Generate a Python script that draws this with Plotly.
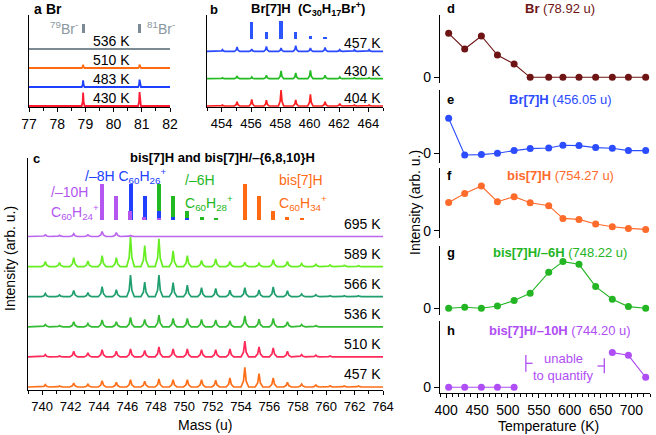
import plotly.graph_objects as go

# ---------------- data ----------------
# panel a : Br- region (peak heights, arb. u.)
a_labels = ["430 K", "483 K", "510 K", "536 K"]
a_colors = ["#ff1a33", "#1f3fff", "#ff6a13", "#7b8a93"]
a_peak_mass = [78.92, 80.92]
a_heights = [[13.5, 14.0], [6.7, 7.3], [3.3, 3.3], [0.0, 0.0]]
a_marker_mass = [78.92, 80.92]
a_marker_height = [9.0, 9.0]

# panel b : Br[7]H region
b_labels = ["404 K", "430 K", "457 K"]
b_colors = ["#ff1f1f", "#22bb22", "#2a4bff"]
b_mass = [454.05, 455.05, 456.05, 457.05, 458.05, 459.05, 460.05, 461.05, 462.05, 463.05, 464.05]
b_heights = [
    [1.0, 4.3, 6.7, 5.7, 16.0, 6.0, 11.7, 4.3, 2.3, 1.0, 1.0],
    [1.0, 2.7, 1.7, 3.3, 7.7, 5.7, 8.3, 3.3, 1.7, 1.0, 1.0],
    [1.7, 4.3, 2.3, 5.0, 3.3, 5.7, 3.3, 4.0, 1.7, 1.7, 1.7],
]
b_stick_mass = [456.05, 457.05, 458.05, 459.05, 460.05, 461.05]
b_stick_height = [17.3, 7.3, 18.0, 6.7, 3.0, 1.7]

# panel c : bis[7]H region
c_labels = ["457 K", "510 K", "536 K", "566 K", "589 K", "695 K"]
c_colors = ["#ff6f1a", "#ff2a5a", "#33bb33", "#1f9e6e", "#66ee22", "#bb66ee"]
c_mass = [740.22, 741.22, 742.22, 743.22, 744.22, 745.22, 746.22, 747.22, 748.22, 749.22,
          750.22, 751.22, 752.22, 753.22, 754.27, 755.27, 756.27, 757.27, 758.27, 759.27,
          760.27, 761.27, 762.27, 763.27]
c_heights = [
    [2.3, 1.0, 4.0, 2.7, 6.3, 4.7, 7.3, 5.7, 8.0, 7.3, 7.3, 7.3, 6.7, 9.0, 19.7, 13.3, 9.0, 4.7, 3.0, 2.0, 1.3, 1.0, 1.0, 0.7],
    [2.3, 1.0, 5.7, 4.0, 7.3, 5.7, 8.0, 6.3, 10.0, 8.0, 8.0, 7.3, 7.3, 8.0, 15.7, 10.0, 9.0, 5.7, 2.3, 1.7, 1.0, 0.7, 0.7, 0.5],
    [2.3, 1.3, 5.0, 3.3, 6.7, 5.0, 9.3, 7.3, 11.7, 8.3, 8.3, 7.3, 6.7, 6.0, 11.0, 7.7, 8.3, 5.0, 2.3, 1.3, 0.7, 0.7, 0.7, 0.5],
    [3.3, 1.7, 6.3, 4.0, 10.0, 7.0, 21.5, 14.7, 21.7, 14.0, 11.5, 9.0, 8.2, 6.5, 9.0, 6.7, 9.7, 6.0, 2.7, 2.0, 1.0, 1.0, 1.0, 0.7],
    [5.0, 4.0, 9.0, 5.5, 11.0, 9.0, 30.0, 21.0, 27.7, 15.7, 11.0, 6.0, 7.7, 5.0, 4.3, 3.3, 7.0, 5.0, 3.0, 2.3, 1.7, 1.3, 1.0, 0.7],
    [1.7, 1.3, 2.7, 1.7, 5.0, 4.0, 1.0, 0.7, 0.7, 0.5, 0.5, 0.5, 0.5, 0.5, 0.7, 0.5, 0.5, 0.5, 0.5, 0.5, 0.5, 0.5, 0.5, 0.5],
]
iso_pattern = [1.0, 0.66, 0.25, 0.075, 0.03]
stick_full = 36.0
stick_mass_6H = [748.22, 749.22, 750.22, 751.22, 752.22]
stick_mass_8H = [746.22, 747.22, 748.22, 749.22, 750.22]
stick_mass_10H = [744.20, 745.20, 746.20, 747.20, 748.20]
stick_mass_bis = [754.27, 755.27, 756.27, 757.27, 758.27]

# panels d-h : temperature dependence
temps = [404, 430, 457, 483, 510, 536, 566, 589, 615, 642, 669, 695, 723]
d_br = [44.0, 28.3, 41.3, 22.3, 13.3, 0, 0, 0, 0, 0, 0, 0, 0]
e_br7h = [35.0, -1.7, -1.3, 0.0, 2.7, 4.7, 5.3, 8.0, 7.7, 5.7, 5.0, 2.7, 2.7]
f_bis = [28.3, 37.3, 44.7, 29.0, 34.0, 28.0, 25.0, 12.3, 11.3, 6.7, 4.0, 2.3, 1.3]
g_bis6 = [0.0, 1.0, 0.0, 2.3, 7.7, 15.0, 36.0, 46.7, 44.0, 21.7, 9.0, 1.7, 0.0]
h_bis10 = [0.0, 0.0, 0.0, 0.0, 0.0, None, None, None, None, None, 34.7, 32.0, 10.0]

# ---------------- helpers ----------------
W, H = 656, 435
FONT = "Liberation Sans, Arial, sans-serif"


def px_x(p):
    return p / W


def px_y(p):
    return 1 - p / H


def profile(centers, heights, base, hw, lo, hi):
    xs, ys = [lo], [base]
    for m, h in zip(centers, heights):
        xs += [m - hw, m - 0.35 * hw, m, m + 0.35 * hw, m + hw]
        ys += [base, base + 0.3 * h, base + h, base + 0.3 * h, base]
    xs.append(hi)
    ys.append(base)
    return xs, ys


fig = go.Figure()

# ---- panel a ----
A_STEP = 19.0
for i, (hts, col) in enumerate(zip(a_heights, a_colors)):
    xs, ys = profile(a_peak_mass, hts, i * A_STEP, 0.05, 77, 82)
    fig.add_trace(go.Scatter(x=xs, y=ys, mode="lines", line=dict(color=col, width=1.8),
                             xaxis="x", yaxis="y", hoverinfo="skip"))
fig.add_trace(go.Bar(x=a_marker_mass, y=a_marker_height, base=73, width=0.11,
                     marker=dict(color="#7b8a93", line=dict(width=0)), xaxis="x", yaxis="y"))

# ---- panel b ----
B_STEP = 27.3
for i, (hts, col) in enumerate(zip(b_heights, b_colors)):
    xs, ys = profile(b_mass, hts, i * B_STEP, 0.18, 453, 465)
    fig.add_trace(go.Scatter(x=xs, y=ys, mode="lines", line=dict(color=col, width=1.7),
                             xaxis="x2", yaxis="y2", hoverinfo="skip"))
fig.add_trace(go.Bar(x=b_stick_mass, y=b_stick_height, base=67, width=0.24,
                     marker=dict(color="#2a55ff", line=dict(width=0)), xaxis="x2", yaxis="y2"))

# ---- panel c ----
C_STEP = 30.1
for i, (hts, col) in enumerate(zip(c_heights, c_colors)):
    xs, ys = profile(c_mass, hts, i * C_STEP, 0.27, 739, 764)
    fig.add_trace(go.Scatter(x=xs, y=ys, mode="lines", line=dict(color=col, width=1.7),
                             xaxis="x3", yaxis="y3", hoverinfo="skip"))
stick_h = [r * stick_full for r in iso_pattern]
for masses, col in [(stick_mass_bis, "#ff6a13"), (stick_mass_6H, "#22b822"),
                    (stick_mass_8H, "#2040ff"), (stick_mass_10H, "#b456f0")]:
    fig.add_trace(go.Bar(x=masses, y=stick_h, base=167, width=0.28,
                         marker=dict(color=col, line=dict(width=0)), xaxis="x3", yaxis="y3"))

# ---- panels d-h ----
right = [
    (d_br, "#6e1414", "4"),
    (e_br7h, "#2b4cff", "5"),
    (f_bis, "#ff6b2b", "6"),
    (g_bis6, "#23b523", "7"),
    (h_bis10, "#b04ef5", "8"),
]
for vals, col, k in right:
    fig.add_trace(go.Scatter(x=temps, y=vals, mode="lines+markers",
                             line=dict(color=col, width=1.1),
                             marker=dict(color=col, size=7),
                             xaxis="x" + k, yaxis="y" + k, hoverinfo="skip"))

# ---------------- layout ----------------
lay = dict(width=W, height=H, margin=dict(l=0, r=0, t=0, b=0, autoexpand=False),
           paper_bgcolor="white", plot_bgcolor="white", showlegend=False,
           barmode="overlay", bargap=0,
           font=dict(family=FONT, size=13, color="black"))


def spec_x(dom, rng, dtick, minor, anchor, size=13):
    return dict(domain=[px_x(dom[0]), px_x(dom[1])], range=rng, anchor=anchor,
                automargin=False,
                showline=True, linecolor="black", linewidth=1.3, mirror=False,
                showgrid=False, zeroline=False, ticks="outside", ticklen=4,
                tickwidth=1.2, tickcolor="black", dtick=dtick, tick0=0,
                tickfont=dict(size=size, family=FONT),
                minor=dict(dtick=minor, ticks="outside", ticklen=2.5, tickcolor="black",
                           showgrid=False))


def spec_y(dom, rng, anchor):
    return dict(domain=[px_y(dom[1]), px_y(dom[0])], range=rng, anchor=anchor,
                automargin=False,
                showline=True, linecolor="black", linewidth=1.3, showgrid=False,
                zeroline=False, showticklabels=False, ticks="")


lay["xaxis"] = spec_x((29, 170), [77, 82], 1, 0.5, "y", size=14)
lay["yaxis"] = spec_y((15, 107), [-1, 91], "x")
lay["xaxis2"] = spec_x((207, 383), [453, 465], 2, 1, "y2")
lay["yaxis2"] = spec_y((15, 107), [-1, 91], "x2")
lay["xaxis3"] = spec_x((28, 383), [739, 764], 2, 1, "y3")
lay["yaxis3"] = spec_y((158, 390), [-3, 229], "x3")

right_dom = [(15, 83, [-5.7, 62.3]), (90, 163, [-9.7, 63.3]), (168, 238, [-7.3, 62.7]),
             (246, 315, [-6.7, 62.3]), (321, 393, [-5.7, 66.3])]
for j, (top, bot, rng) in enumerate(right_dom):
    k = str(j + 4)
    xa = dict(domain=[px_x(440), px_x(650)], range=[390, 730], anchor="y" + k,
              automargin=False, showgrid=False, zeroline=False)
    if k == "8":
        xa.update(showline=True, linecolor="black", linewidth=1.3, ticks="outside",
                  ticklen=4, tickwidth=1.2, tickcolor="black", dtick=50, tick0=0,
                  tickfont=dict(size=14, family=FONT),
                  minor=dict(dtick=10, ticks="outside", ticklen=2.5, tickcolor="black",
                             showgrid=False))
    else:
        xa.update(visible=False)
    lay["xaxis" + k] = xa
    lay["yaxis" + k] = dict(domain=[px_y(bot), px_y(top)], range=rng, anchor="x" + k,
                            automargin=False,
                            showline=True, linecolor="black", linewidth=1.3,
                            showgrid=False, zeroline=False, tickvals=[0], ticktext=["0"],
                            ticks="outside", ticklen=5, tickwidth=1.2, tickcolor="black",
                            tickfont=dict(size=14, family=FONT))

ann = []


def note(text, x, y, xanchor="center", size=13, color="black", **kw):
    ann.append(dict(text=text, x=px_x(x), y=px_y(y), xref="paper", yref="paper",
                    xanchor=xanchor, yanchor="middle", showarrow=False,
                    font=dict(size=size, color=color, family=FONT), **kw))


def dnote(text, x, y, xr, yr, xanchor="center", size=13, color="black"):
    ann.append(dict(text=text, x=x, y=y, xref=xr, yref=yr, xanchor=xanchor,
                    yanchor="middle", showarrow=False,
                    font=dict(size=size, color=color, family=FONT)))


# panel a texts
note("<b>a</b>", 32, 9, "left", 14)
note("<b>Br</b>", 44, 9, "left", 14)
note("<sup>79</sup>Br<sup>-</sup>", 80, 28, "right", 14, "#8a979e")
note("<sup>81</sup>Br<sup>-</sup>", 145, 28, "left", 14, "#8a979e")
for i, lab in enumerate(a_labels):
    dnote(lab, 79.92, i * A_STEP + 7.7, "x", "y", size=14)

# panel b texts
note("<b>b</b>", 208, 9, "left", 13)
note("<b>Br[7]H  (C<sub>30</sub>H<sub>17</sub>Br<sup>+</sup>)</b>", 308, 9, "center", 13)
for i, lab in enumerate(b_labels):
    dnote(lab, 465, i * B_STEP + 8, "x2", "y2", xanchor="right", size=14)

# panel c texts
note("<b>c</b>", 31, 158, "left", 13)
note("<b>bis[7]H and bis[7]H/–{6,8,10}H</b>", 222, 157, "center", 13)
note("/–10H", 49, 192, "left", 14, "#b456f0")
note("C<sub>60</sub>H<sub>24</sub><sup>+</sup>", 49, 212, "left", 14, "#b456f0")
note("/–8H C<sub>60</sub>H<sub>26</sub><sup>+</sup>", 83, 176, "left", 14, "#2040ff")
note("/–6H", 183, 180, "left", 14, "#22b822")
note("C<sub>60</sub>H<sub>28</sub><sup>+</sup>", 183, 203, "left", 14, "#22b822")
note("bis[7]H", 277, 180, "left", 14, "#ff6a13")
note("C<sub>60</sub>H<sub>34</sub><sup>+</sup>", 277, 203, "left", 14, "#ff6a13")
for i, lab in enumerate(c_labels):
    dnote(lab, 764, i * C_STEP + 13, "x3", "y3", xanchor="right", size=14)

# panels d-h texts
titles = [
    ("d", "<b>Br</b> (78.92 u)", "#6e1414", 8),
    ("e", "<b>Br[7]H</b> (456.05 u)", "#2b4cff", 99),
    ("f", "<b>bis[7]H</b> (754.27 u)", "#ff6b2b", 175),
    ("g", "<b>bis[7]H/–6H</b> (748.22 u)", "#23b523", 252),
    ("h", "<b>bis[7]H/–10H</b> (744.20 u)", "#b04ef5", 330),
]
for letter, t, col, yy in titles:
    note("<b>%s</b>" % letter, 445, yy, "left", 13)
    note(t, 560, yy, "center", 13, col)
note("unable", 563, 358, "center", 13, "#b04ef5")
note("to quantify", 563, 375, "center", 13, "#b04ef5")

# axis titles
note("Mass (u)", 205, 425, "center", 14)
note("Temperature (K)", 548, 426, "center", 14)
note("Intensity (arb. u.)", 10, 259, "center", 14, textangle=-90)
note("Intensity (arb. u.)", 415, 202, "center", 14, textangle=-90)

lay["annotations"] = ann

# brackets around "unable to quantify" (in panel h data coordinates)
pc = "#b04ef5"
shapes = []
for x0, x1, y0, y1, in [(529, 529, 15.6, 32.3), (656, 656, 14, 29)]:
    shapes.append(dict(type="line", xref="x8", yref="y8", x0=x0, x1=x1, y0=y0, y1=y1,
                       line=dict(color=pc, width=1.3)))
shapes.append(dict(type="line", xref="x8", yref="y8", x0=529, x1=540, y0=24, y1=24,
                   line=dict(color=pc, width=1.3)))
shapes.append(dict(type="line", xref="x8", yref="y8", x0=645, x1=656, y0=21.3, y1=21.3,
                   line=dict(color=pc, width=1.3)))
lay["shapes"] = shapes

fig.update_layout(**lay)
fig.write_html("out.html", config={"displayModeBar": False},
               post_script="document.body.style.margin='0';document.body.style.padding='0';")
